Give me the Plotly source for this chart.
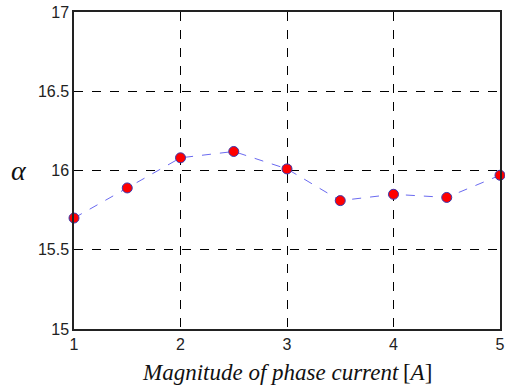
import plotly.graph_objects as go

current = [1, 1.5, 2, 2.5, 3, 3.5, 4, 4.5, 5]
alpha = [15.70, 15.89, 16.08, 16.12, 16.01, 15.81, 15.85, 15.83, 15.97]
x_ticks = [1, 2, 3, 4, 5]
y_ticks = [15, 15.5, 16, 16.5, 17]
y_tick_labels = ["15", "15.5", "16", "16.5", "17"]

fig = go.Figure()
fig.add_trace(go.Scatter(
    x=current, y=alpha, mode="lines+markers",
    line=dict(color="#6a6af0", width=1, dash="dash"),
    marker=dict(color="#ff0000", size=10, line=dict(color="#3a3ab0", width=1)),
    cliponaxis=False, showlegend=False,
))

axis_common = dict(
    showgrid=True, gridcolor="black", griddash="dash", gridwidth=1.3,
    showline=True, linecolor="#222", linewidth=1.5, mirror=True,
    zeroline=False, ticks="", ticklabeloverflow="allow",
    tickfont=dict(family="Liberation Sans, Arial", size=16, color="#222"),
)
fig.update_xaxes(range=[1, 5], tickvals=x_ticks, ticktext=[str(v) for v in x_ticks], **axis_common)
fig.update_yaxes(range=[15, 17], tickvals=y_ticks, ticktext=y_tick_labels, **axis_common)

fig.add_annotation(
    text="<i>Magnitude of phase current</i>\u2009[<i>A</i>]",
    xref="paper", yref="paper", x=0.5, y=-0.09, yanchor="top", showarrow=False,
    font=dict(family="Liberation Serif, Times New Roman", size=23, color="#111"),
)
fig.add_annotation(
    text="<i>α</i>", xref="paper", yref="paper", x=-0.13, y=0.5, xanchor="center",
    yanchor="middle", showarrow=False,
    font=dict(family="Liberation Serif, Times New Roman", size=28, color="#111"),
)

fig.update_layout(
    width=505, height=390,
    margin=dict(l=74, r=0, t=12, b=61),
    paper_bgcolor="white", plot_bgcolor="white",
)
fig.write_html("out.html", config={"displayModeBar": False},
               post_script="document.body.style.margin='0';")
